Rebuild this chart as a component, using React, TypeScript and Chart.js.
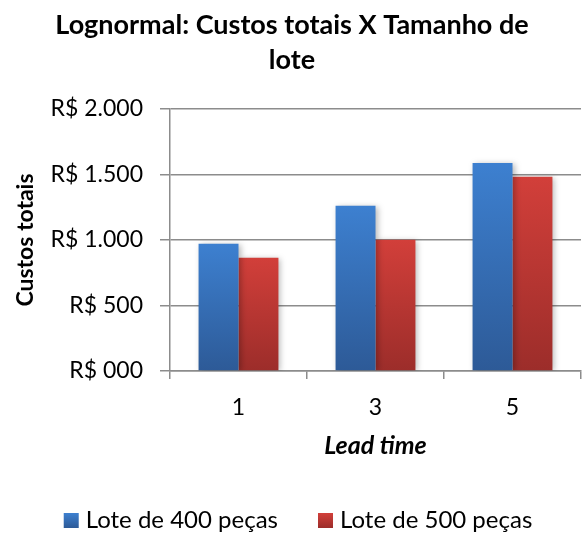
import { useEffect, useRef } from "react";
import { Chart, registerables } from "chart.js";

Chart.register(...registerables);

// ---- data ----
const categories = ["1", "3", "5"];
const lote400 = [972, 1261, 1588];
const lote500 = [865, 1002, 1482];
const seriesNames = ["Lote de 400 peças", "Lote de 500 peças"];
const yTickValues = [0, 500, 1000, 1500, 2000];
const yTickLabels = ["R$ 000", "R$ 500", "R$ 1.000", "R$ 1.500", "R$ 2.000"];
const chartTitle = ["Lognormal: Custos totais X Tamanho de", "lote"];
const xTitle = "Lead time";
const yTitle = "Custos totais";

// ---- styles ----
const FONT = "Lato";
const GRID = "#8c8c8c";
const BLUE_TOP = "#3d80d0";
const BLUE_BOTTOM = "#2d5a97";
const RED_TOP = "#d23f3a";
const RED_BOTTOM = "#9c2d2a";
const LEGEND_CX = 298;
const LEGEND_CY = 520.5;
const TITLE_CX = 292;
const TITLE_Y0 = 25;
const TITLE_LINE = 35;
const TITLE_SIZE = 27;

function barGradient(top: string, bottom: string) {
  return (ctx: any) => {
    const chart = ctx.chart;
    const { chartArea, scales } = chart;
    if (!chartArea || !scales.y || ctx.type !== "data") return bottom;
    const v = ctx.raw as number;
    const y0 = scales.y.getPixelForValue(v);
    const y1 = scales.y.getPixelForValue(0);
    const g = chart.ctx.createLinearGradient(0, y0, 0, y1);
    g.addColorStop(0, top);
    g.addColorStop(1, bottom);
    return g;
  };
}

const shadowPlugin = {
  id: "barShadow",
  beforeDatasetsDraw(chart: any) {
    const c = chart.ctx;
    c.save();
    c.shadowColor = "rgba(0,0,0,0.28)";
    c.shadowBlur = 6;
    c.shadowOffsetX = 2;
    c.shadowOffsetY = 1;
  },
  afterDatasetsDraw(chart: any) {
    chart.ctx.restore();
  },
};

const titlePlugin = {
  id: "offsetTitle",
  afterDraw(chart: any) {
    const ctx = chart.ctx;
    ctx.save();
    ctx.font = `bold ${TITLE_SIZE}px ${FONT}`;
    ctx.textAlign = "center";
    ctx.textBaseline = "middle";
    ctx.fillStyle = "#000";
    chartTitle.forEach((line, i) => {
      ctx.fillText(line, TITLE_CX, TITLE_Y0 + i * TITLE_LINE);
    });
    ctx.restore();
  },
};

const legendPlugin = {
  id: "customLegend",
  afterDraw(chart: any) {
    const ctx = chart.ctx;
    ctx.save();
    ctx.font = `24px ${FONT}`;
    ctx.textBaseline = "middle";
    ctx.textAlign = "left";
    const box = 15;
    const gap = 7;
    const itemGap = 40;
    const items = chart.data.datasets.map((ds: any) => ({
      label: ds.label as string,
      top: ds.legendTop as string,
      bottom: ds.legendBottom as string,
      w: box + gap + ctx.measureText(ds.label).width,
    }));
    const total =
      items.reduce((s: number, it: any) => s + it.w, 0) + itemGap * (items.length - 1);
    let x = LEGEND_CX - total / 2;
    const y = LEGEND_CY;
    for (const it of items) {
      const g = ctx.createLinearGradient(0, y - box / 2, 0, y + box / 2);
      g.addColorStop(0, it.top);
      g.addColorStop(1, it.bottom);
      ctx.fillStyle = g;
      ctx.fillRect(x, y - box / 2, box, box);
      ctx.fillStyle = "#000";
      ctx.fillText(it.label, x + box + gap, y);
      x += it.w + itemGap;
    }
    ctx.restore();
  },
};

export default function App() {
  const ref = useRef<HTMLCanvasElement | null>(null);

  useEffect(() => {
    document.body.style.margin = "0";
    const canvas = ref.current;
    if (!canvas) return;
    Chart.defaults.font.family = FONT;
    Chart.defaults.color = "#000";
    const chart = new Chart(canvas, {
      type: "bar",
      data: {
        labels: categories,
        datasets: [
          {
            label: seriesNames[0],
            data: lote400,
            backgroundColor: barGradient(BLUE_TOP, BLUE_BOTTOM),
            borderWidth: 0,
            legendTop: BLUE_TOP,
            legendBottom: BLUE_BOTTOM,
          } as any,
          {
            label: seriesNames[1],
            data: lote500,
            backgroundColor: barGradient(RED_TOP, RED_BOTTOM),
            borderWidth: 0,
            legendTop: RED_TOP,
            legendBottom: RED_BOTTOM,
          } as any,
        ],
      },
      options: {
        responsive: false,
        animation: false,
        devicePixelRatio: 1,
        layout: { padding: { left: 0, right: 3, top: 109, bottom: 72 } },
        datasets: {
          bar: { barPercentage: 1, categoryPercentage: 0.583 },
        },
        plugins: {
          legend: { display: false },
          tooltip: { enabled: false },
          title: { display: false },
        },
        scales: {
          x: {
            grid: {
              display: true,
              drawOnChartArea: false,
              drawTicks: true,
              tickLength: 8,
              color: GRID,
              lineWidth: 1.5,
              offset: true,
            },
            border: { display: true, color: GRID, width: 1.5 },
            ticks: {
              color: "#000",
              font: { family: FONT, size: 23 },
              padding: 15,
            },
            title: {
              display: true,
              text: xTitle,
              color: "#000",
              font: { family: FONT, size: 25, weight: "bold", style: "italic" },
              padding: { top: 0, bottom: 0 },
            },
            afterFit(scale: any) {
              scale.height = 90;
            },
          },
          y: {
            min: 0,
            max: 2000,
            afterBuildTicks(scale: any) {
              scale.ticks = yTickValues.map((v) => ({ value: v }));
            },
            grid: {
              color: GRID,
              lineWidth: 1.5,
              drawTicks: true,
              tickLength: 10,
            },
            border: { display: true, color: GRID, width: 1.5 },
            ticks: {
              color: "#000",
              font: { family: FONT, size: 23 },
              padding: 17,
              callback: (value: any) => {
                const i = yTickValues.indexOf(Number(value));
                return i >= 0 ? yTickLabels[i] : "";
              },
            },
            title: {
              display: true,
              text: yTitle,
              color: "#000",
              font: { family: FONT, size: 23, weight: "bold" },
              padding: { top: 12, bottom: 0 },
            },
            afterFit(scale: any) {
              scale.width = 170;
            },
          },
        },
      },
      plugins: [shadowPlugin, titlePlugin, legendPlugin],
    });
    return () => chart.destroy();
  }, []);

  return (
    <div style={{ width: 584, height: 533 }}>
      <canvas ref={ref} width={584} height={533} style={{ display: "block" }} />
    </div>
  );
}
